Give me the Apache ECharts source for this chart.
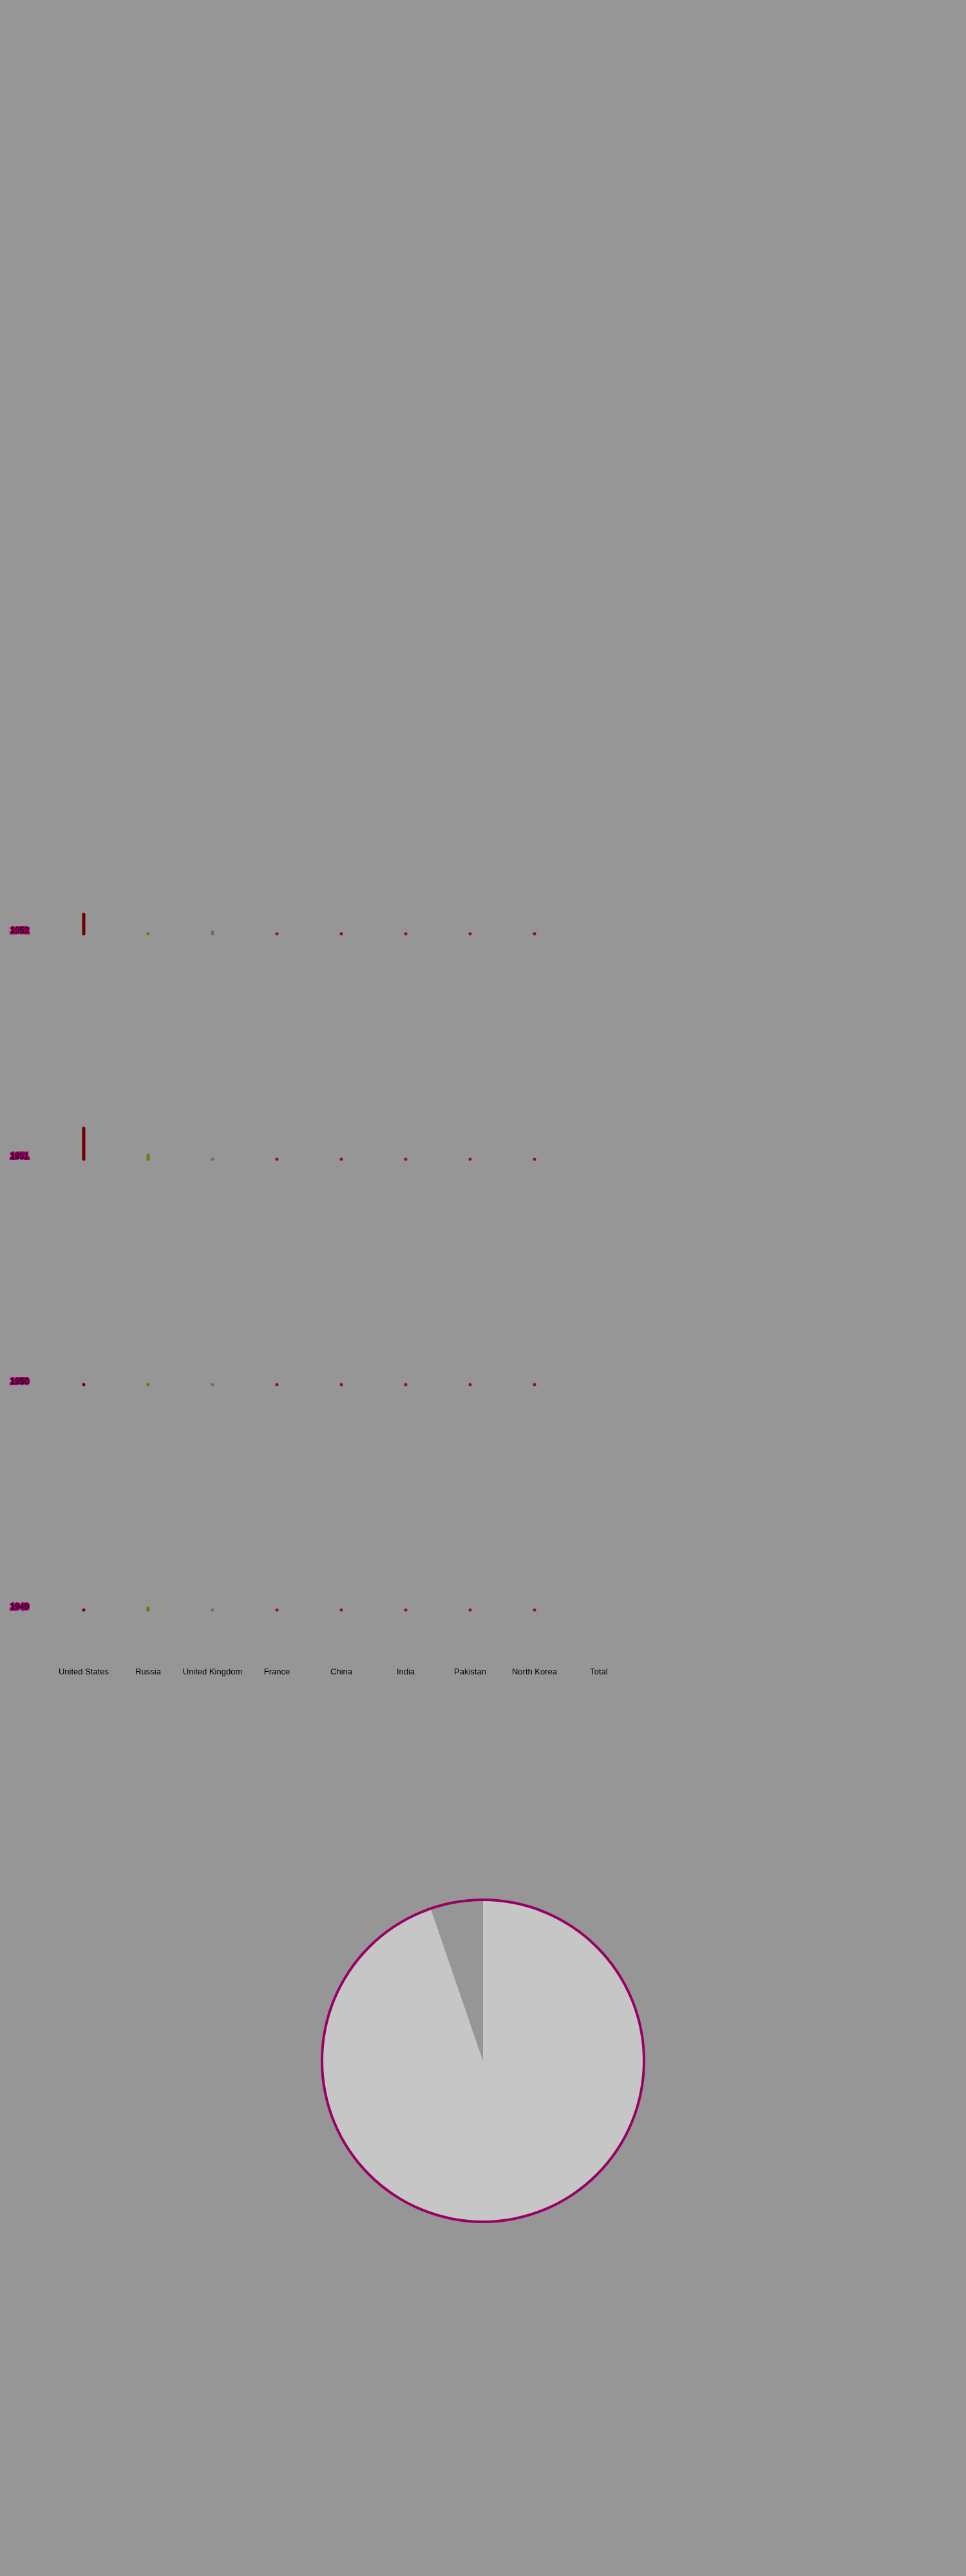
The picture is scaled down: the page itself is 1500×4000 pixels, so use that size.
<!DOCTYPE html>
<html>
<head>
<meta charset="utf-8">
<script src="https://cdn.jsdelivr.net/npm/echarts@6/dist/echarts.min.js"></script>
<style>
  html, body { margin: 0; padding: 0; background: #969696; }
  #main { width: 1500px; height: 4000px; }
</style>
</head>
<body>
<div id="main"></div>
<script>
let years = ['1952', '1951', '1950', '1949'];
let countries = ['United States', 'Russia', 'United Kingdom', 'France', 'China', 'India', 'Pakistan', 'North Korea', 'Total'];
let tests1952 = [10, 0, 1, 0, 0, 0, 0, 0, null];
let tests1951 = [16, 2, 0, 0, 0, 0, 0, 0, null];
let tests1950 = [0, 0, 0, 0, 0, 0, 0, 0, null];
let tests1949 = [0, 1, 0, 0, 0, 0, 0, 0, null];
let rows = [tests1952, tests1951, tests1950, tests1949];
let countryColors = ['#700000', '#767600', '#6e6e6e', '#990066', '#990066', '#990066', '#990066', '#990066', '#990066'];
let pieNames = ['Rest', 'Slice'];
let pieValues = [18, 1];

let chart = echarts.init(document.getElementById('main'));

// rounded stick from 0 up to the value, like a thick line with round caps
function renderStick(params, api) {
  let idx = api.value(0);
  let base = api.coord([idx, 0]);
  let top = api.coord([idx, api.value(1)]);
  let w = 5;
  return {
    type: 'rect',
    shape: {x: base[0] - w / 2, y: top[1] - w / 2, width: w, height: base[1] - top[1] + w, r: w / 2},
    style: {fill: countryColors[idx]}
  };
}

let grids = [], xAxes = [], yAxes = [], series = [], titles = [];
rows.forEach(function (vals, i) {
  let baseline = 1450 + i * 350;
  grids.push({left: 80, width: 900, top: baseline - 300, height: 300});
  let last = i === rows.length - 1;
  xAxes.push({
    type: 'category', gridIndex: i, data: countries,
    axisLine: {show: false}, axisTick: {show: false}, splitLine: {show: false},
    axisLabel: {show: last, interval: 0, margin: 90, color: '#000', fontSize: 13, fontFamily: 'Liberation Sans'}
  });
  yAxes.push({type: 'value', gridIndex: i, min: 0, max: 100, show: false});
  series.push({
    type: 'custom', xAxisIndex: i, yAxisIndex: i,
    renderItem: renderStick,
    data: vals.map(function (v, k) { return v === null ? null : [k, v]; }).filter(function (d) { return d; })
  });
  titles.push({
    text: years[i], left: 16, top: baseline - 11, padding: 0,
    textStyle: {color: '#000', fontSize: 13, fontWeight: 'normal', fontFamily: 'Liberation Sans',
      textBorderColor: '#990066', textBorderWidth: 4}
  });
});

series.push({
  type: 'pie', center: [750, 3200], radius: [0, 250],
  silent: true, label: {show: false}, labelLine: {show: false},
  itemStyle: {borderWidth: 0},
  color: ['#c6c6c6', '#969696'],
  data: pieNames.map(function (n, k) { return {name: n, value: pieValues[k]}; })
});
series.push({
  type: 'pie', center: [750, 3200], radius: [248, 252],
  silent: true, label: {show: false}, labelLine: {show: false},
  itemStyle: {color: '#990066'},
  data: [{name: 'ring', value: 1}]
});

chart.setOption({
  animation: false,
  backgroundColor: '#969696',
  title: titles,
  grid: grids,
  xAxis: xAxes,
  yAxis: yAxes,
  series: series
});
</script>
</body>
</html>
